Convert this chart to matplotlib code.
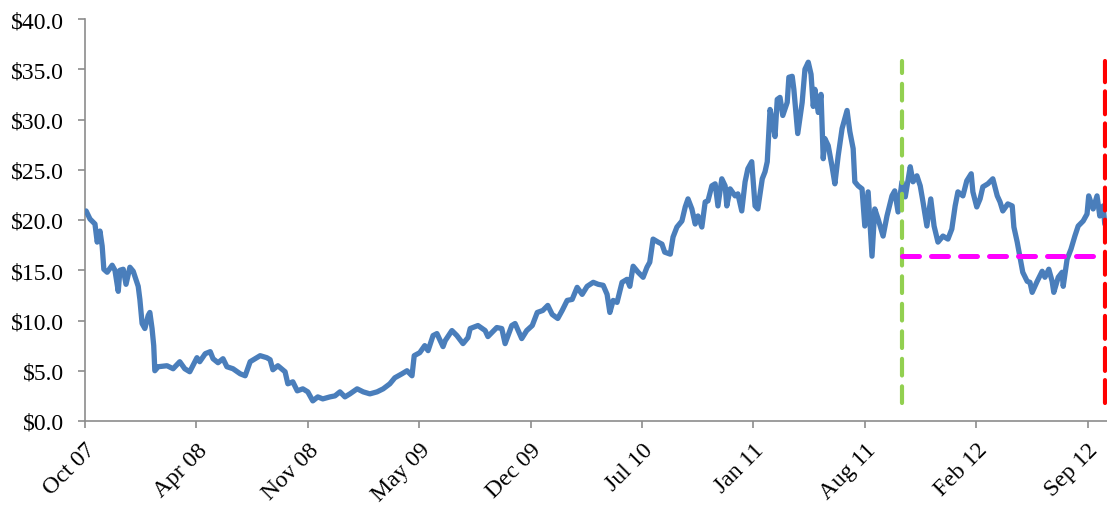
import matplotlib
matplotlib.use("Agg")
import matplotlib.pyplot as plt
import pandas as pd
import numpy as np
from matplotlib.ticker import FuncFormatter

# ---------------- data ----------------
start_date = "2007-10-01"
axis_end_date = "2012-10-18"

days_since_start = [
    2, 9, 18, 22, 27, 31, 34, 40, 49, 54, 60, 63, 69, 74, 81, 87, 96, 99, 103, 108,
    114, 117, 121, 124, 126, 132, 148, 159, 171, 180, 189, 202, 207, 217, 226, 231, 240, 249, 256, 267,
    280, 289, 298, 316, 328, 334, 339, 348, 361, 366, 375, 383, 393, 402, 411, 420, 429, 442, 451, 460,
    469, 478, 491, 502, 514, 527, 538, 550, 559, 572, 581, 590, 594, 604, 613, 619, 628, 635, 646, 650,
    662, 671, 682, 691, 695, 709, 722, 727, 743, 752, 758, 770, 776, 788, 797, 807, 816, 826, 835, 843,
    853, 861, 870, 879, 888, 897, 906, 917, 926, 935, 942, 947, 953, 960, 969, 978, 983, 989, 998, 1007,
    1014, 1019, 1025, 1034, 1041, 1046, 1056, 1061, 1068, 1077, 1083, 1088, 1095, 1101, 1106, 1113, 1119, 1124, 1131, 1137,
    1142, 1149, 1155, 1158, 1164, 1173, 1178, 1185, 1191, 1196, 1203, 1209, 1214, 1222, 1227, 1231, 1236, 1240, 1245, 1249,
    1254, 1259, 1267, 1270, 1276, 1279, 1283, 1286, 1294, 1299, 1305, 1310, 1314, 1317, 1323, 1328, 1332, 1335, 1341, 1348,
    1353, 1359, 1366, 1375, 1380, 1386, 1389, 1395, 1402, 1407, 1413, 1420, 1425, 1431, 1440, 1447, 1456, 1461, 1467, 1474,
    1480, 1489, 1494, 1501, 1507, 1512, 1519, 1526, 1532, 1539, 1548, 1557, 1564, 1570, 1575, 1584, 1591, 1599, 1602, 1609,
    1615, 1620, 1629, 1638, 1646, 1651, 1656, 1665, 1673, 1676, 1682, 1687, 1692, 1700, 1705, 1709, 1718, 1727, 1732, 1739,
    1745, 1748, 1756, 1763, 1765, 1772, 1779, 1786, 1792, 1801, 1808, 1811, 1819, 1826, 1831, 1837, 1840,
]

price = [
    20.9, 20.1, 19.6, 17.8, 18.9, 17.4, 15.1, 14.8, 15.5, 15.0, 12.9, 15.0, 15.1, 13.6, 15.3, 14.9, 13.4, 12.1, 9.7, 9.2,
    10.5, 10.8, 9.2, 7.5, 5.0, 5.4, 5.5, 5.2, 5.9, 5.2, 4.9, 6.3, 5.9, 6.7, 6.9, 6.2, 5.8, 6.2, 5.4, 5.2,
    4.7, 4.5, 5.9, 6.5, 6.3, 6.1, 5.1, 5.5, 4.9, 3.7, 3.9, 3.0, 3.2, 2.9, 2.0, 2.4, 2.2, 2.4, 2.5, 2.9,
    2.4, 2.7, 3.2, 2.9, 2.7, 2.9, 3.2, 3.7, 4.3, 4.7, 5.0, 4.5, 6.5, 6.8, 7.5, 7.0, 8.5, 8.7, 7.4, 8.0,
    9.0, 8.5, 7.7, 8.3, 9.2, 9.5, 9.0, 8.4, 9.3, 9.2, 7.7, 9.5, 9.7, 8.2, 9.0, 9.5, 10.8, 11.0, 11.5, 10.6,
    10.2, 11.0, 12.0, 12.1, 13.3, 12.6, 13.4, 13.8, 13.6, 13.5, 12.6, 10.8, 12.0, 11.8, 13.8, 14.1, 13.4, 15.4, 14.8, 14.3,
    15.3, 15.8, 18.1, 17.8, 17.6, 16.8, 16.6, 18.3, 19.3, 19.9, 21.3, 22.1, 21.1, 19.6, 20.4, 19.3, 21.8, 21.9, 23.4, 23.6,
    21.4, 24.1, 23.4, 21.4, 23.1, 22.4, 22.6, 20.9, 23.8, 25.1, 25.8, 21.4, 21.1, 24.1, 24.8, 25.8, 31.0, 30.0, 28.3, 32.0,
    32.2, 30.4, 31.7, 34.2, 34.3, 33.0, 30.5, 28.6, 31.7, 35.0, 35.7, 34.5, 31.3, 33.0, 30.7, 32.5, 26.1, 28.1, 27.4, 25.3,
    23.6, 26.4, 29.1, 30.9, 28.8, 27.1, 23.8, 23.4, 23.1, 19.4, 22.8, 16.4, 21.1, 20.1, 18.4, 20.4, 22.4, 22.9, 20.8, 23.8,
    22.3, 25.3, 23.8, 24.4, 23.4, 21.8, 19.4, 22.1, 19.4, 17.8, 18.4, 18.1, 19.1, 21.4, 22.8, 22.4, 23.9, 24.6, 22.8, 21.3,
    22.1, 23.3, 23.6, 24.1, 22.4, 21.8, 20.9, 21.6, 21.4, 19.3, 17.8, 16.3, 14.8, 13.9, 13.8, 12.8, 13.9, 14.9, 14.3, 15.1,
    13.9, 12.8, 14.3, 14.8, 13.4, 16.1, 17.1, 18.4, 19.4, 19.9, 20.6, 22.4, 21.1, 22.4, 20.4, 21.4, 19.6,
]

event_start = "2011-10-14"   # green marker
event_end = "2012-10-14"     # red marker
reference_price = 16.4       # magenta level
marker_low, marker_high = 1.8, 35.8

tick_labels = ["Oct 07", "Apr 08", "Nov 08", "May 09", "Dec 09",
               "Jul 10", "Jan 11", "Aug 11", "Feb 12", "Sep 12"]
tick_step_days = 201

# ---------------- plot ----------------
plt.rcParams["font.family"] = ["Liberation Serif", "DejaVu Serif"]

t0 = pd.Timestamp(start_date)
dates = t0 + pd.to_timedelta(days_since_start, unit="D")

fig = plt.figure(figsize=(11.07, 5.06), dpi=100)
ax = fig.add_axes([85 / 1107, 84 / 506, 1 - 85 / 1107, (422 - 20) / 506])

ax.plot(dates, price, color="#4A7EBB", lw=3.8, solid_joinstyle="round",
        solid_capstyle="round", zorder=3)

ev0 = pd.Timestamp(event_start)
ev1 = pd.Timestamp(event_end)
ax.plot([ev0, ev0], [marker_low, marker_high], color="#92D050", lw=3.0,
        dashes=(4.0, 2.6), dash_capstyle="round", zorder=4)
ax.plot([ev1, ev1], [marker_low, marker_high], color="#FF0000", lw=3.0,
        dashes=(5.5, 2.2), dash_capstyle="round", zorder=4)
ax.plot([ev0, ev1], [reference_price, reference_price], color="#FF00FF", lw=3.6,
        dashes=(3.4, 2.4), dash_capstyle="round", zorder=4)

ax.set_ylim(0, 40)
ax.set_yticks(np.arange(0, 40.1, 5))
ax.yaxis.set_major_formatter(FuncFormatter(lambda v, p: f"${v:.1f}"))

ax.set_xlim(t0, pd.Timestamp(axis_end_date))
tick_pos = [t0 + pd.Timedelta(days=tick_step_days * k) for k in range(len(tick_labels))]
ax.set_xticks(tick_pos)
ax.set_xticklabels(tick_labels, rotation=45, ha="right", va="top",
                   rotation_mode="anchor")

for s in ["top", "right"]:
    ax.spines[s].set_visible(False)
for s in ["left", "bottom"]:
    ax.spines[s].set_color("#8c8c8c")
    ax.spines[s].set_linewidth(1.2)

ax.tick_params(axis="both", direction="out", length=5, width=1.2,
               color="#8c8c8c", labelsize=17, labelcolor="black")
ax.tick_params(axis="y", pad=10)
ax.tick_params(axis="x", pad=8)

fig.savefig("out.png", dpi=100)
